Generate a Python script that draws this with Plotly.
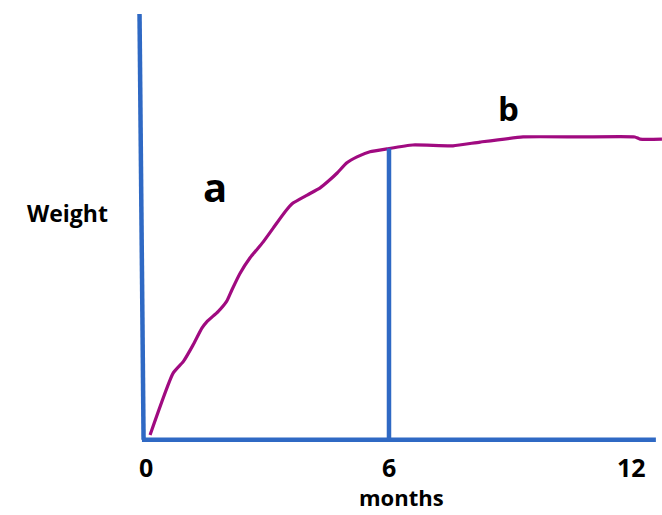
import plotly.graph_objects as go

# ---- data ----
months = [0.10, 0.67, 0.92, 1.16, 1.38, 1.50, 1.78, 1.99, 2.12, 2.32, 2.57, 2.89,
          3.14, 3.43, 3.63, 3.98, 4.30, 4.54, 4.72, 4.96, 5.21, 5.53, 5.95, 6.59,
          7.58, 8.25, 9.31, 10.72, 12.07, 12.20, 12.74]
weight = [0.07, 1.53, 1.80, 2.19, 2.59, 2.74, 2.98, 3.22, 3.49, 3.88, 4.25, 4.62,
          4.95, 5.33, 5.54, 5.73, 5.90, 6.09, 6.25, 6.49, 6.63, 6.75, 6.82, 6.91,
          6.89, 6.98, 7.10, 7.10, 7.10, 7.05, 7.05]
tick_vals = [0, 6, 12]
tick_labels = ["0", "6", "12"]
phase_split = 6
phase_labels = ["a", "b"]
phase_label_x = [1.70, 8.96]
phase_label_y = [5.92, 7.76]
x_title = "months"
y_title = "Weight"

BLUE = "#2F69C4"
PURPLE = "#A00A80"
FONT = "Open Sans"

fig = go.Figure()

# weight curve
fig.add_trace(go.Scatter(x=months, y=weight, mode="lines",
                         line=dict(color=PURPLE, width=3.2, shape="spline", smoothing=0.5),
                         hoverinfo="skip", showlegend=False))

# value of curve at split point (for vertical divider)
def interp(x):
    for i in range(len(months) - 1):
        if months[i] <= x <= months[i + 1]:
            t = (x - months[i]) / (months[i + 1] - months[i])
            return weight[i] + t * (weight[i + 1] - weight[i])
    return weight[-1]

split_top = interp(phase_split)

# axes drawn as lines in data coordinates
fig.add_shape(type="line", xref="x", yref="y", x0=-0.16, y0=10.0, x1=-0.06, y1=-0.04,
              line=dict(color=BLUE, width=4.5))
fig.add_shape(type="line", xref="x", yref="y", x0=-0.10, y0=-0.04, x1=12.59, y1=-0.04,
              line=dict(color=BLUE, width=4.5))
fig.add_shape(type="line", xref="x", yref="y", x0=phase_split, y0=-0.04, x1=phase_split,
              y1=split_top, line=dict(color=BLUE, width=4.5))

annotations = []
for v, lab in zip(tick_vals, tick_labels):
    annotations.append(dict(x=v, y=-0.68, xref="x", yref="y", text=lab, showarrow=False,
                            font=dict(family=FONT, size=25, color="black", weight="bold"),
                            xanchor="center", yanchor="middle"))
for lab, lx, ly, sz in zip(phase_labels, phase_label_x, phase_label_y, [40, 33]):
    annotations.append(dict(x=lx, y=ly, xref="x", yref="y", text=lab, showarrow=False,
                            font=dict(family=FONT, size=sz, color="black", weight="bold"),
                            xanchor="center", yanchor="middle"))
annotations.append(dict(x=6.32, y=-1.40, xref="x", yref="y", text=x_title, showarrow=False,
                        font=dict(family=FONT, size=22, color="black", weight="bold"),
                        xanchor="center", yanchor="middle", borderpad=0))
annotations.append(dict(x=-1.95, y=5.31, xref="x", yref="y", text=y_title, showarrow=False,
                        font=dict(family=FONT, size=23, color="black", weight="bold"),
                        xanchor="center", yanchor="middle"))

fig.update_layout(
    width=662, height=515,
    margin=dict(l=0, r=0, t=0, b=0),
    paper_bgcolor="white", plot_bgcolor="white",
    xaxis=dict(range=[-3.605, 12.741], visible=False, fixedrange=True),
    yaxis=dict(range=[-1.816, 10.33], visible=False, fixedrange=True),
    annotations=annotations,
    showlegend=False,
)

fig.write_html("out.html", config={"displayModeBar": False},
               post_script="document.body.style.margin='0';document.body.style.overflow='hidden';")
